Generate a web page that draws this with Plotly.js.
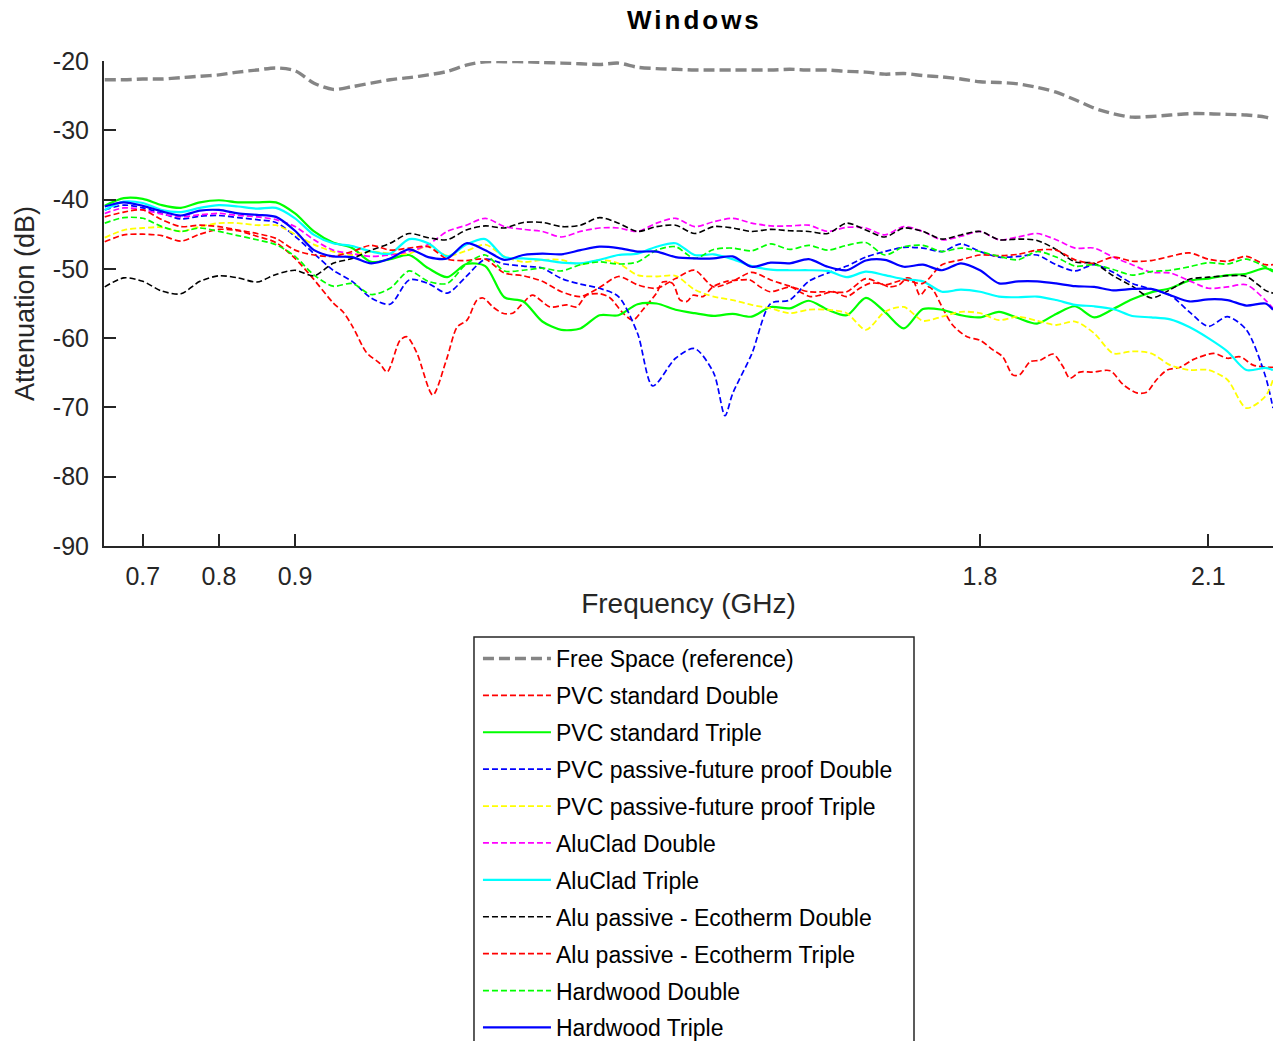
<!DOCTYPE html>
<html>
<head>
<meta charset="utf-8">
<script src="https://cdn.plot.ly/plotly-3.0.1.min.js"></script>
<style>
html,body{margin:0;padding:0;background:#fff;}
#chart{width:1273px;height:1041px;}
.gtitle{letter-spacing:3px;}
</style>
</head>
<body>
<div id="chart"></div>
<script>
// Shared frequency grid (GHz)
const freqGHz = [0.65,0.675,0.7,0.725,0.75,0.775,0.8,0.825,0.85,0.875,0.9,0.925,0.95,0.975,1.0,1.025,1.05,1.075,1.1,1.125,1.15,1.175,1.2,1.225,1.25,1.275,1.3,1.325,1.35,1.375,1.4,1.425,1.45,1.475,1.5,1.525,1.55,1.575,1.6,1.625,1.65,1.675,1.7,1.725,1.75,1.775,1.8,1.825,1.85,1.875,1.9,1.925,1.95,1.975,2.0,2.025,2.05,2.075,2.1,2.125,2.15,2.175,2.185];

const freeSpace = [-22.7,-22.7,-22.6,-22.6,-22.4,-22.2,-22.0,-21.6,-21.3,-21.0,-21.4,-23.2,-24.1,-23.7,-23.2,-22.7,-22.4,-22.0,-21.5,-20.6,-20.1,-20.1,-20.1,-20.2,-20.3,-20.4,-20.5,-20.3,-20.9,-21.1,-21.2,-21.3,-21.3,-21.3,-21.3,-21.3,-21.2,-21.3,-21.3,-21.5,-21.6,-21.9,-21.8,-22.1,-22.3,-22.6,-23.0,-23.1,-23.3,-23.8,-24.5,-25.6,-26.8,-27.6,-28.1,-28.0,-27.8,-27.6,-27.6,-27.7,-27.8,-28.1,-28.4];

// PVC standard Double (own frequency points, sharp dips)
const freqPvcStdDouble = [0.65,0.675,0.7,0.725,0.75,0.775,0.8,0.825,0.85,0.875,0.9,0.923,0.95,0.963,0.976,0.994,1.011,1.021,1.038,1.047,1.06,1.081,1.099,1.113,1.126,1.139,1.147,1.16,1.173,1.186,1.199,1.212,1.235,1.257,1.27,1.283,1.301,1.314,1.331,1.344,1.357,1.375,1.383,1.396,1.406,1.415,1.423,1.436,1.449,1.467,1.485,1.498,1.511,1.524,1.537,1.551,1.563,1.577,1.59,1.607,1.625,1.642,1.655,1.668,1.681,1.694,1.704,1.712,1.721,1.732,1.738,1.752,1.764,1.783,1.8,1.817,1.83,1.843,1.852,1.866,1.879,1.896,1.909,1.918,1.931,1.948,1.971,1.988,2.006,2.019,2.032,2.046,2.063,2.08,2.107,2.125,2.142,2.159,2.177,2.185];
const pvcStdDouble = [-46.1,-45.1,-45.0,-45.2,-46.0,-45.0,-44.3,-44.5,-45.3,-46.2,-48.5,-51.3,-54.9,-56.2,-58.4,-62.1,-63.6,-64.9,-60.3,-59.8,-62.1,-68.2,-63.1,-58.4,-57.4,-54.5,-54.2,-55.5,-56.4,-56.4,-55.0,-53.8,-55.5,-55.2,-55.5,-53.8,-53.6,-54.2,-56.4,-57.4,-55.9,-53.5,-51.9,-52.1,-54.5,-54.7,-53.8,-54.0,-52.6,-51.8,-51.6,-51.6,-52.6,-53.3,-53.0,-52.6,-53.3,-54.0,-53.8,-53.3,-54.0,-52.8,-52.1,-52.1,-52.6,-52.3,-51.3,-51.6,-53.8,-52.6,-53.0,-55.9,-58.1,-59.8,-60.3,-61.7,-62.7,-65.3,-65.3,-63.4,-63.2,-62.3,-64.1,-65.8,-64.9,-64.9,-64.7,-66.7,-67.9,-67.8,-66.0,-64.6,-64.2,-63.1,-62.2,-62.9,-62.7,-63.9,-64.2,-64.2];

const pvcStdTriple = [-40.9,-39.8,-39.9,-40.8,-41.2,-40.4,-40.1,-40.4,-40.4,-40.4,-42.0,-44.6,-46.2,-47.0,-49.0,-48.6,-48.0,-49.9,-51.2,-49.3,-49.6,-54.1,-54.7,-57.6,-58.8,-58.6,-56.7,-56.7,-55.1,-55.0,-55.9,-56.4,-56.8,-56.5,-56.9,-55.5,-55.7,-54.6,-55.9,-56.7,-54.2,-56.2,-58.6,-55.8,-55.9,-56.7,-57.0,-56.2,-57.1,-57.9,-56.5,-55.4,-57.0,-55.8,-54.4,-53.4,-52.8,-51.7,-51.4,-50.9,-50.7,-49.9,-50.4];

// PVC passive-future proof Double (own frequency points, sharp dip at 1.465)
const freqPvcPassDouble = [0.65,0.675,0.7,0.725,0.75,0.775,0.8,0.825,0.85,0.875,0.9,0.925,0.95,0.975,1.0,1.025,1.05,1.075,1.1,1.125,1.15,1.175,1.2,1.225,1.25,1.275,1.3,1.325,1.35,1.37,1.4,1.425,1.45,1.465,1.475,1.5,1.525,1.55,1.575,1.6,1.625,1.65,1.675,1.7,1.725,1.75,1.775,1.8,1.825,1.85,1.875,1.9,1.925,1.95,1.975,2.0,2.025,2.05,2.075,2.1,2.125,2.15,2.175,2.185];
const pvcPassDouble = [-41.5,-40.8,-41.2,-42.0,-42.8,-42.4,-42.3,-42.6,-42.9,-43.3,-45.3,-47.8,-50.2,-51.8,-54.2,-55.1,-51.6,-52.1,-53.5,-51.1,-48.6,-49.3,-49.6,-49.9,-51.4,-52.2,-52.8,-54.0,-59.3,-66.9,-62.9,-61.5,-65.0,-71.2,-68.0,-62.3,-55.0,-54.5,-51.8,-50.6,-49.6,-48.3,-47.5,-46.9,-47.0,-47.5,-46.4,-47.5,-48.3,-48.2,-48.0,-49.4,-50.3,-49.4,-50.5,-52.1,-52.9,-53.8,-56.2,-58.3,-56.9,-58.8,-65.5,-70.1];

const pvcPassTriple = [-45.5,-44.4,-44.1,-44.0,-44.6,-43.9,-43.4,-43.4,-43.7,-43.7,-45.0,-46.5,-47.5,-48.0,-47.5,-47.8,-47.8,-46.7,-48.1,-47.4,-46.5,-48.2,-49.0,-48.7,-48.7,-49.4,-48.7,-49.2,-50.9,-51.1,-51.0,-53.0,-54.0,-54.5,-55.2,-55.7,-56.4,-55.9,-55.9,-56.4,-58.8,-56.2,-55.5,-57.5,-56.9,-56.2,-56.4,-57.4,-56.9,-57.5,-58.1,-57.6,-59.3,-62.2,-61.9,-62.2,-63.9,-64.6,-64.6,-66.0,-70.1,-68.4,-66.0];

const aluCladDouble = [-42.0,-41.2,-41.5,-42.1,-42.5,-42.2,-42.0,-42.3,-42.5,-42.9,-43.9,-45.8,-47.3,-47.8,-48.2,-48.0,-47.5,-46.5,-44.6,-43.7,-42.7,-43.9,-44.3,-44.6,-45.4,-44.6,-44.1,-44.1,-44.6,-43.4,-42.7,-43.9,-43.2,-42.7,-43.4,-43.8,-43.8,-43.7,-44.6,-44.0,-44.1,-45.1,-43.9,-44.6,-45.8,-45.3,-44.6,-45.8,-45.4,-44.9,-45.8,-47.0,-47.0,-48.3,-49.4,-50.5,-50.6,-51.7,-52.8,-52.6,-52.3,-54.5,-55.7];

const aluCladTriple = [-41.5,-40.3,-40.5,-41.5,-41.8,-41.2,-40.8,-41.0,-41.3,-41.2,-42.7,-45.1,-46.3,-46.7,-47.5,-47.8,-45.7,-46.3,-48.2,-46.5,-45.7,-48.3,-48.5,-48.7,-49.1,-49.2,-48.7,-48.0,-47.8,-46.8,-46.3,-48.0,-47.9,-48.6,-49.6,-50.1,-50.2,-50.2,-50.3,-51.2,-50.4,-50.9,-51.5,-51.8,-53.3,-53.0,-53.3,-54.0,-54.1,-54.0,-54.5,-55.2,-55.4,-55.8,-56.8,-57.0,-57.3,-58.4,-60.0,-61.9,-64.6,-64.3,-64.6];

const aluEcoDouble = [-52.6,-51.3,-51.8,-53.2,-53.6,-51.8,-51.0,-51.3,-51.9,-50.8,-50.2,-51.0,-49.2,-48.5,-47.3,-46.3,-44.9,-45.5,-45.8,-44.4,-43.8,-44.1,-43.3,-43.3,-43.9,-43.7,-42.6,-43.4,-44.6,-43.9,-43.7,-44.9,-43.9,-44.1,-44.6,-44.3,-44.5,-44.6,-44.9,-43.4,-44.4,-45.4,-44.1,-44.6,-45.7,-45.1,-44.6,-45.8,-45.7,-45.9,-47.2,-49.0,-49.2,-51.0,-52.5,-54.2,-53.0,-51.5,-51.2,-51.0,-51.1,-53.1,-53.5];

const aluEcoTriple = [-42.5,-41.8,-41.5,-42.9,-43.9,-43.7,-43.9,-44.4,-44.9,-45.6,-47.3,-48.0,-48.2,-47.5,-46.6,-47.3,-47.0,-46.8,-48.6,-48.8,-48.6,-50.6,-51.0,-51.8,-53.3,-54.0,-52.7,-51.1,-52.3,-52.8,-51.4,-50.2,-52.6,-51.8,-50.5,-51.6,-52.5,-53.3,-53.3,-53.3,-51.4,-52.3,-51.6,-52.1,-49.4,-48.7,-48.0,-48.1,-47.9,-47.3,-47.3,-48.7,-49.2,-48.3,-48.9,-48.8,-48.2,-47.7,-48.6,-48.9,-48.2,-49.4,-49.4];

const hardwoodDouble = [-43.4,-42.6,-42.7,-43.9,-44.6,-44.1,-44.6,-45.2,-45.8,-46.5,-48.2,-50.9,-52.5,-52.1,-53.7,-52.8,-50.3,-51.8,-52.1,-49.3,-48.0,-50.3,-50.2,-49.9,-50.3,-49.4,-49.0,-49.3,-49.0,-47.3,-46.8,-48.5,-47.2,-47.0,-47.4,-46.4,-47.2,-46.6,-47.3,-46.6,-46.2,-48.0,-46.8,-46.6,-47.5,-47.0,-47.5,-48.2,-48.7,-47.5,-48.3,-49.6,-49.4,-50.1,-50.9,-50.4,-50.2,-49.7,-49.1,-49.3,-48.6,-49.7,-50.2];

const hardwoodTriple = [-41.0,-40.4,-40.9,-41.7,-42.3,-41.6,-41.5,-42.0,-42.2,-42.5,-44.5,-47.3,-48.2,-48.3,-49.2,-48.5,-47.2,-48.3,-48.5,-46.3,-47.3,-48.7,-48.0,-47.8,-47.9,-47.3,-46.8,-47.0,-47.5,-47.5,-48.3,-48.5,-48.5,-48.2,-49.7,-49.1,-49.2,-48.6,-49.7,-50.2,-48.8,-48.7,-49.7,-49.4,-50.2,-49.2,-50.2,-52.1,-51.8,-51.8,-52.1,-52.5,-52.6,-53.1,-52.9,-52.9,-53.8,-54.7,-54.4,-54.5,-55.3,-55.0,-55.9];

const seriesNames = ["Free Space (reference)","PVC standard Double","PVC standard Triple","PVC passive-future proof Double","PVC passive-future proof Triple","AluClad Double","AluClad Triple","Alu passive - Ecotherm Double","Alu passive - Ecotherm Triple","Hardwood Double","Hardwood Triple"];
const xTickVals = [0.7,0.8,0.9,1.8,2.1];
const xTickText = ["0.7","0.8","0.9","1.8","2.1"];
const yTickVals = [-90,-80,-70,-60,-50,-40,-30,-20];
const yTickText = ["-90","-80","-70","-60","-50","-40","-30","-20"];

const dashThin = "6px,3px";
const seriesDefs = [
  {x: freqGHz, y: freeSpace, color: "#858585", width: 3.4, dash: "11px,5px"},
  {x: freqPvcStdDouble, y: pvcStdDouble, color: "#FF0000", width: 1.7, dash: dashThin},
  {x: freqGHz, y: pvcStdTriple, color: "#00FF00", width: 2.2, dash: "solid"},
  {x: freqPvcPassDouble, y: pvcPassDouble, color: "#0000FF", width: 1.7, dash: dashThin},
  {x: freqGHz, y: pvcPassTriple, color: "#FFFF00", width: 1.8, dash: dashThin},
  {x: freqGHz, y: aluCladDouble, color: "#FF00FF", width: 1.7, dash: dashThin},
  {x: freqGHz, y: aluCladTriple, color: "#00FFFF", width: 2.2, dash: "solid"},
  {x: freqGHz, y: aluEcoDouble, color: "#000000", width: 1.6, dash: dashThin},
  {x: freqGHz, y: aluEcoTriple, color: "#FF0000", width: 1.7, dash: dashThin},
  {x: freqGHz, y: hardwoodDouble, color: "#00FF00", width: 1.7, dash: dashThin},
  {x: freqGHz, y: hardwoodTriple, color: "#0000FF", width: 2.2, dash: "solid"}
];

const traces = seriesDefs.map((s, i) => ({
  type: "scatter",
  mode: "lines",
  x: s.x,
  y: s.y,
  name: seriesNames[i],
  legendgroup: "g" + i,
  line: {color: s.color, width: s.width, dash: s.dash, shape: "spline", smoothing: 0.8},
  hoverinfo: "skip"
}));

const axisColor = "#262626";
const FONT = "Liberation Sans, Arial, sans-serif";

const layout = {
  width: 1273,
  height: 1041,
  margin: {l: 104, r: 0, t: 61, b: 495, autoexpand: false},
  paper_bgcolor: "#ffffff",
  plot_bgcolor: "#ffffff",
  font: {family: FONT, color: axisColor},
  title: {
    text: "<b>Windows</b>",
    font: {family: FONT, size: 26, color: "#000000"},
    x: 0.5455, xref: "container", xanchor: "center",
    y: 0.981, yref: "container", yanchor: "middle"
  },
  showlegend: true,
  legend: {
    x: 0.3199, xanchor: "left",
    y: -0.1876, yanchor: "top",
    bgcolor: "rgba(0,0,0,0)",
    borderwidth: 0,
    font: {family: FONT, size: 23, color: "#000000"},
    traceorder: "grouped",
    tracegroupgap: 4,
    itemwidth: 68
  },
  shapes: [{
    type: "rect", xref: "paper", yref: "paper",
    x0: 0.3165, x1: 0.6929, y0: -0.1876, y1: -1.08,
    line: {color: axisColor, width: 1.5},
    fillcolor: "#ffffff",
    layer: "below"
  }],
  xaxis: {
    range: [0.649, 2.185],
    tickvals: xTickVals,
    ticktext: xTickText,
    ticks: "inside",
    ticklen: 12,
    tickwidth: 2,
    tickcolor: axisColor,
    showline: true,
    linecolor: axisColor,
    linewidth: 2,
    showgrid: false,
    zeroline: false,
    tickfont: {family: FONT, size: 25, color: axisColor},
    ticklabelstandoff: 7,
    title: {text: "Frequency (GHz)", font: {family: FONT, size: 28, color: axisColor}, standoff: 4}
  },
  yaxis: {
    range: [-90, -20],
    tickvals: yTickVals,
    ticktext: yTickText,
    ticks: "inside",
    ticklen: 12,
    tickwidth: 2,
    tickcolor: axisColor,
    showline: true,
    linecolor: axisColor,
    linewidth: 2,
    showgrid: false,
    zeroline: false,
    tickfont: {family: FONT, size: 25, color: axisColor},
    ticklabelstandoff: 8,
    title: {text: "Attenuation (dB)", font: {family: FONT, size: 27, color: axisColor}, standoff: 10}
  }
};

Plotly.newPlot("chart", traces, layout, {displayModeBar: false, staticPlot: true});
</script>
</body>
</html>
